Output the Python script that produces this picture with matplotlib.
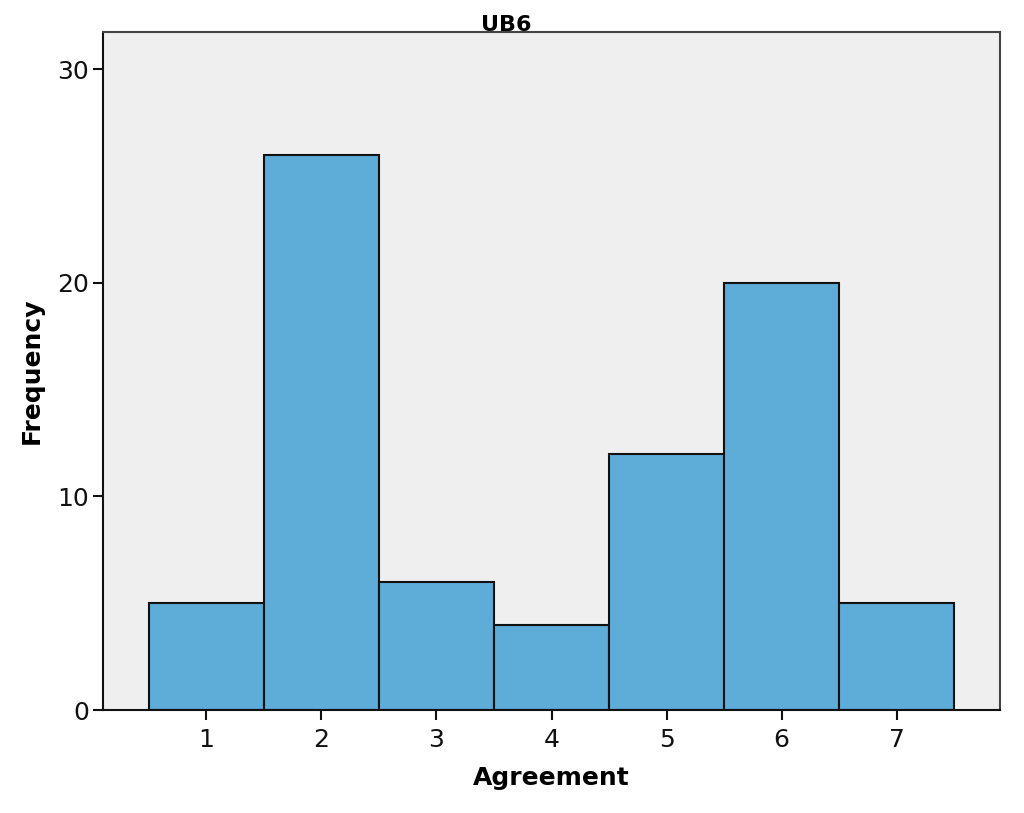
import numpy as np
import matplotlib.pyplot as plt

# Agreement histogram (UB6)
agreement = [1, 2, 3, 4, 5, 6, 7]
frequency = [5, 26, 6, 4, 12, 20, 5]
yticks = [0, 10, 20, 30]

fig = plt.figure(figsize=(10.24, 8.13), dpi=100)
ax = fig.add_axes([103/1024, 1 - 710/813, (1000-103)/1024, (710-32)/813])
ax.set_facecolor('#efefef')

ax.bar(agreement, frequency, width=1.0, color='#5eacd8',
       edgecolor='#111111', linewidth=1.5, zorder=2)

ax.set_xlim(0.104, 7.896)
ax.set_ylim(0, 31.75)
ax.set_xticks(agreement)
ax.set_yticks(yticks)
ax.tick_params(axis='both', labelsize=18, length=7, width=1.5, direction='out',
               colors='#111111')
ax.tick_params(axis='x', pad=6)
ax.tick_params(axis='y', pad=3)

for s in ['left', 'bottom']:
    ax.spines[s].set_color('#111111')
    ax.spines[s].set_linewidth(1.5)
for s in ['top', 'right']:
    ax.spines[s].set_color('#444444')
    ax.spines[s].set_linewidth(1.5)

ax.set_xlabel('Agreement', fontsize=18, fontweight='bold', labelpad=10)
ax.set_ylabel('Frequency', fontsize=18, fontweight='bold', labelpad=10)
# title sits centred on the figure, not on the axes
fig.text(506/1024, 1 - 31/813, 'UB6', fontsize=16, fontweight='bold',
         ha='center', va='baseline')

plt.savefig('out.png', dpi=100)
